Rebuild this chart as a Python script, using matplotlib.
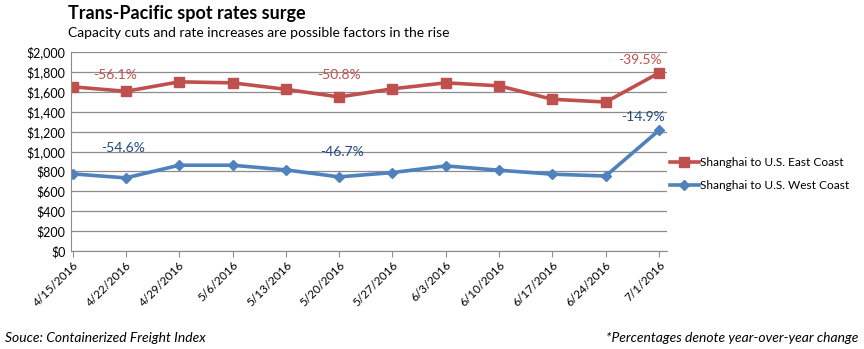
import matplotlib
matplotlib.use('Agg')
import matplotlib.pyplot as plt

plt.rcParams['font.family'] = ['Lato', 'DejaVu Sans']

dates = ['4/15/2016', '4/22/2016', '4/29/2016', '5/6/2016', '5/13/2016', '5/20/2016',
         '5/27/2016', '6/3/2016', '6/10/2016', '6/17/2016', '6/24/2016', '7/1/2016']
east = [1650, 1605, 1700, 1690, 1625, 1548, 1630, 1690, 1660, 1525, 1497, 1790]
west = [775, 735, 862, 862, 815, 745, 788, 855, 812, 772, 754, 1213]
# (index, label) of year-over-year notes
east_notes = [(1, '-56.1%'), (5, '-50.8%'), (11, '-39.5%')]
west_notes = [(1, '-54.6%'), (5, '-46.7%'), (11, '-14.9%')]

red = '#C0504D'
blue = '#4F81BD'
grid = '#8C8C8C'

fig = plt.figure(figsize=(8.64, 3.49), dpi=100)
ax = fig.add_axes([71/864, 98/349, 596/864, 199/349])
x = list(range(len(dates)))
ax.plot(x, east, color=red, lw=2.6, marker='s', ms=7, label='Shanghai to U.S. East Coast')
ax.plot(x, west, color=blue, lw=2.6, marker='D', ms=5.5, label='Shanghai to U.S. West Coast')

ax.set_ylim(0, 2000)
ax.set_xlim(-0.03, 11.15)
ax.set_yticks(range(0, 2001, 200))
ax.set_yticklabels([f'${v:,}' for v in range(0, 2001, 200)], fontsize=9)
ax.set_xticks(x)
ax.set_xticklabels(dates, rotation=45, ha='right', rotation_mode='anchor', fontsize=8.5)
ax.yaxis.grid(True, color=grid, lw=0.9)
ax.set_axisbelow(True)
for s in ('top', 'right'):
    ax.spines[s].set_visible(False)
for s in ('left', 'bottom'):
    ax.spines[s].set_color(grid)
ax.tick_params(axis='y', length=0, pad=4)
ax.tick_params(axis='x', length=4, color=grid, pad=2)

offs = {1: (-0.2, 75), 5: (0, 75), 11: (-0.35, 70)}
for i, t in east_notes:
    dx, dy = offs[i]
    ax.text(i + dx, east[i] + dy if i == 11 else 1710, t, color=red, fontsize=10, ha='center', va='bottom')
for i, t in west_notes:
    y = 970 if i == 1 else (935 if i == 5 else west[i] + 70)
    dx = -0.05 if i == 1 else (0.05 if i == 5 else -0.3)
    ax.text(i + dx, y, t, color='#1F497D', fontsize=10, ha='center', va='bottom')

fig.legend(*ax.get_legend_handles_labels(), loc='center left', bbox_to_anchor=(670/864, 1 - 174/349),
           frameon=False, fontsize=8.6, handlelength=2.4, borderaxespad=0, borderpad=0,
           labelspacing=1.0, handletextpad=0.15)

fig.text(68/864, 1 - 13/349, 'Trans-Pacific spot rates surge', fontsize=13, fontweight='bold', va='center')
fig.text(68/864, 1 - 33/349, 'Capacity cuts and rate increases are possible factors in the rise', fontsize=10, va='center')
fig.text(5/864, 1 - 338/349, 'Souce: Containerized Freight Index', fontsize=10, style='italic', va='center')
fig.text(858/864, 1 - 338/349, '*Percentages denote year-over-year change', fontsize=10, style='italic', va='center', ha='right')

fig.savefig('out.png', dpi=100)
